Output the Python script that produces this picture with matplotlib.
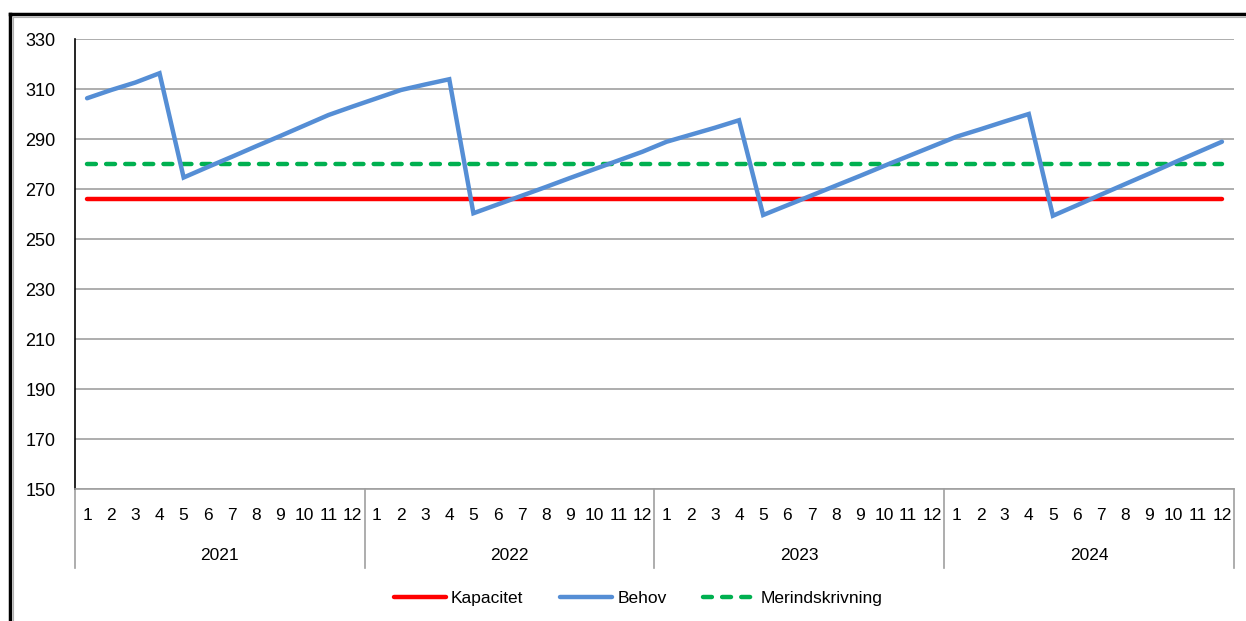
import matplotlib.pyplot as plt
from matplotlib.lines import Line2D
import matplotlib.transforms as mtransforms

plt.rcParams['font.family'] = ['Liberation Sans', 'DejaVu Sans']

years = ['2021', '2022', '2023', '2024']
months = [str(m) for m in range(1, 13)]

kapacitet = 266
merindskrivning = 280
behov = [306.3, 309.6, 312.6, 316.3, 274.6, 278.8, 282.9, 287.1, 291.2, 295.4, 299.6, 303.0,
         306.3, 309.6, 311.8, 313.9, 260.3, 263.8, 267.3, 270.8, 274.4, 277.9, 281.4, 284.9,
         288.9, 291.7, 294.5, 297.5, 259.6, 263.5, 267.4, 271.3, 275.2, 279.2, 283.1, 287.0,
         290.9, 293.9, 297.0, 300.0, 259.3, 263.5, 267.8, 272.0, 276.2, 280.5, 284.7, 288.9]

x = list(range(len(behov)))

fig = plt.figure(figsize=(12.46, 6.21), dpi=100)
ax = fig.add_axes([75 / 1246, 1 - 489 / 621, (1234 - 75) / 1246, 450 / 621])

ax.plot(x, [kapacitet] * len(x), color='#FF0000', lw=3.2, solid_capstyle='round', label='Kapacitet', zorder=3)
ax.plot(x, behov, color='#558ED5', lw=3.2, solid_capstyle='round', solid_joinstyle='miter', label='Behov', zorder=4)
ax.plot(x, [merindskrivning] * len(x), color='#00B050', lw=3.2, dashes=(2.0, 2.3), dash_capstyle='round',
        label='Merindskrivning', zorder=3)

ax.set_ylim(150, 330)
ax.set_yticks(range(150, 331, 20))
ax.set_xlim(-0.5, len(x) - 0.5)
ax.grid(axis='y', color='#a0a0a0', lw=1.2)
ax.set_axisbelow(True)

for s in ['top', 'right']:
    ax.spines[s].set_visible(False)
ax.spines['left'].set_color('black')
ax.spines['left'].set_linewidth(1.2)
ax.spines['bottom'].set_color('#a0a0a0')
ax.spines['bottom'].set_linewidth(1.2)

ax.set_xticks(x)
ax.set_xticklabels(months * len(years), fontsize=12.5)
ax.tick_params(axis='x', length=0, pad=14)
ax.tick_params(axis='y', length=0, pad=14, labelsize=13)

trans = mtransforms.blended_transform_factory(ax.transData, ax.transAxes)
for i in range(len(years) + 1):
    xs = i * 12 - 0.5
    ax.add_line(Line2D([xs, xs], [0, -79 / 450], transform=trans, color='#a0a0a0', lw=1.2, clip_on=False))
for i, yr in enumerate(years):
    ax.text(i * 12 + 5.5, -66 / 450, yr, transform=trans, ha='center', va='center', fontsize=12.5)

fig.legend(loc='center', bbox_to_anchor=(638 / 1246, 1 - 598 / 621), ncol=3, frameon=False,
           fontsize=12.5, handlelength=3.0, columnspacing=2.1, handletextpad=0.3)

# ramme rundt om diagrammet
fig.add_artist(Line2D([10 / 1246, 1], [1 - 14 / 621] * 2, color='black', lw=2.5, transform=fig.transFigure))
fig.add_artist(Line2D([10 / 1246] * 2, [0, 1 - 14 / 621], color='black', lw=2.5, transform=fig.transFigure))
fig.add_artist(Line2D([13 / 1246, 1], [1 - 17 / 621] * 2, color='#b0b0b0', lw=0.8, transform=fig.transFigure))
fig.add_artist(Line2D([13 / 1246] * 2, [0, 1 - 17 / 621], color='#b0b0b0', lw=0.8, transform=fig.transFigure))

fig.savefig('out.png', dpi=100)
